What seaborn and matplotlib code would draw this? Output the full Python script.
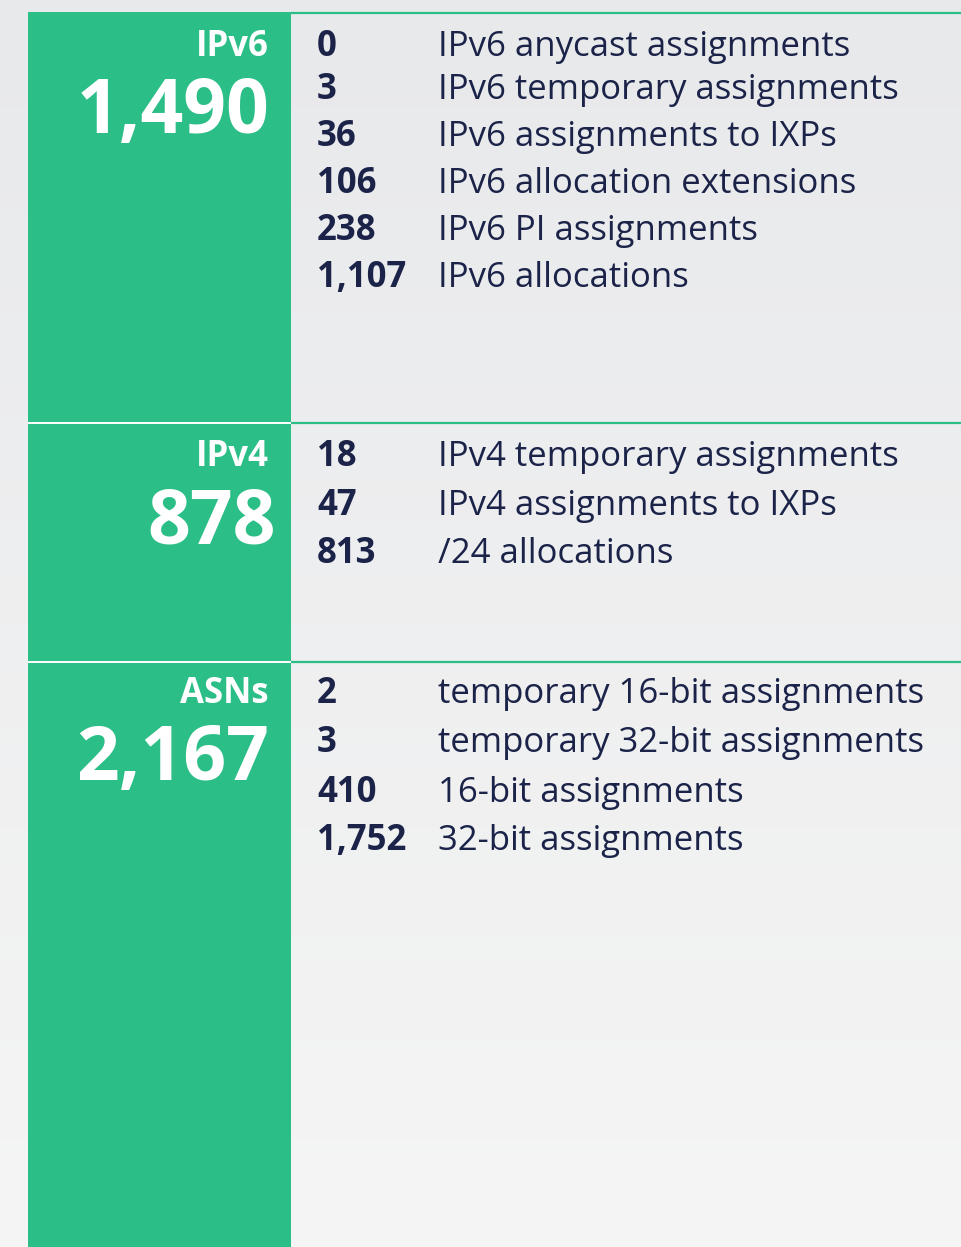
"""Internet number resources issued: IPv6, IPv4 and ASNs breakdown panel."""
import numpy as np
import matplotlib.pyplot as plt
import seaborn as sns

# data
groups = ["IPv6", "IPv4", "ASNs"]
totals = ["1,490", "878", "2,167"]
ipv6_counts = ["0", "3", "36", "106", "238", "1,107"]
ipv6_labels = ["IPv6 anycast assignments", "IPv6 temporary assignments",
               "IPv6 assignments to IXPs", "IPv6 allocation extensions",
               "IPv6 PI assignments", "IPv6 allocations"]
ipv4_counts = ["18", "47", "813"]
ipv4_labels = ["IPv4 temporary assignments", "IPv4 assignments to IXPs", "/24 allocations"]
asn_counts = ["2", "3", "410", "1,752"]
asn_labels = ["temporary 16-bit assignments", "temporary 32-bit assignments",
              "16-bit assignments", "32-bit assignments"]

# layout (pixels, y grows downward)
W, H = 962, 1247
GREEN, NAVY = "#2cbe87", "#1b2349"
col_left, col_right, col_top = 28, 291, 12
dividers = [422.5, 661.5]
baselines = [[56, 99, 146, 193, 240, 287], [466, 515, 563], [703, 752, 802, 850]]
total_right = [269, 276, 269]

sns.set_theme(style="white")
plt.rcParams["font.family"] = ["Open Sans", "DejaVu Sans"]

fig = plt.figure(figsize=(W / 100, H / 100), dpi=100)
ax = fig.add_axes([0, 0, 1, 1])
ax.set_xlim(0, W); ax.set_ylim(H, 0); ax.axis("off")

# soft grey vertical gradient background
grad = np.linspace(0, 1, 256)[:, None]
top, bot = np.array([232, 233, 235]) / 255, np.array([245, 245, 245]) / 255
ax.imshow(top + grad[..., None] * (bot - top), extent=(0, W, H, 0), aspect="auto", zorder=0)

ax.add_patch(plt.Rectangle((col_left, col_top), col_right - col_left, H - col_top,
                           color=GREEN, lw=0, zorder=1))
ax.hlines(13, col_right, W, color=GREEN, lw=1.6, zorder=2)
for y in dividers:
    ax.hlines(y, col_left, col_right, color="white", lw=1.4, zorder=2)
    ax.hlines(y, col_right, W, color=GREEN, lw=1.6, zorder=2)

rows = [(ipv6_counts, ipv6_labels), (ipv4_counts, ipv4_labels), (asn_counts, asn_labels)]
for name, total, (counts, labels), ys, xr in zip(groups, totals, rows, baselines, total_right):
    ax.text(269, ys[0], name, color="white", fontsize=25, fontweight="bold",
            ha="right", va="baseline", zorder=3)
    ax.text(xr, ys[0] + 77, total, color="white", fontsize=54, fontweight="bold",
            ha="right", va="baseline", zorder=3)
    for c, lab, y in zip(counts, labels, ys):
        ax.text(317, y, c, color=NAVY, fontsize=25, fontweight="bold", va="baseline", zorder=3)
        ax.text(438, y, lab, color=NAVY, fontsize=25, va="baseline", zorder=3)

fig.savefig("out.png", dpi=100)
